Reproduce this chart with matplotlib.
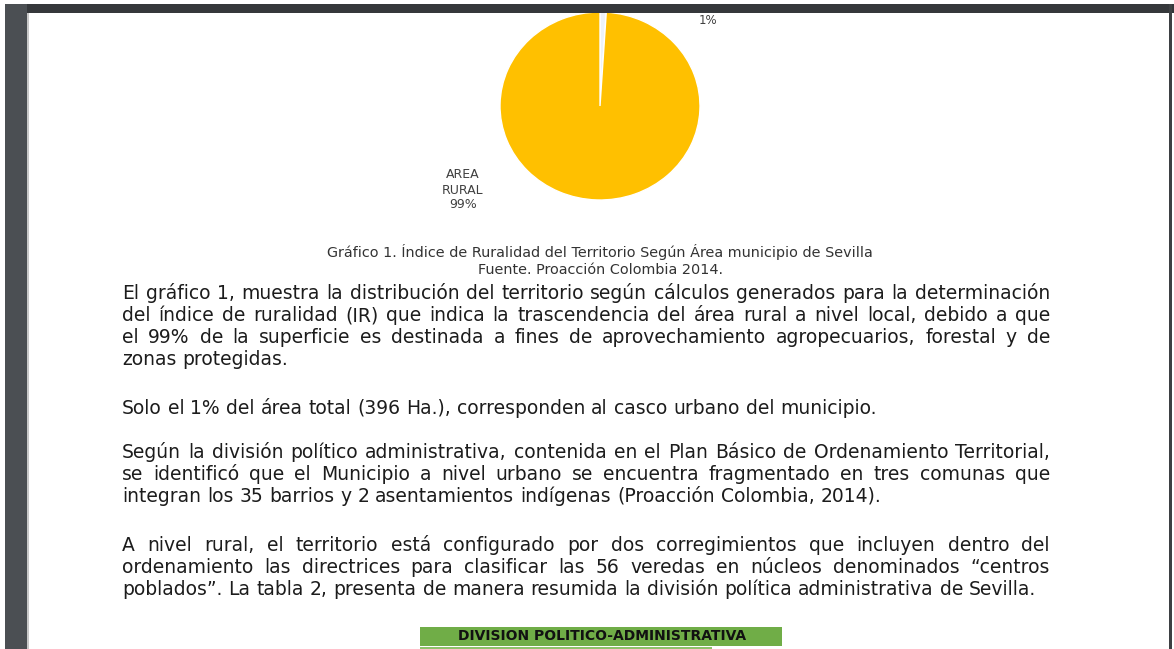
import matplotlib
matplotlib.use("Agg")
import matplotlib.pyplot as plt
from matplotlib.patches import Rectangle

# ---------------- data ----------------
categories = ["AREA URBANA", "AREA RURAL"]
values = [1, 99]
slice_colors = ["#eef3f8", "#ffc000"]

caption_lines = [
    "Gráfico 1. Índice de Ruralidad del Territorio Según Área municipio de Sevilla",
    "Fuente. Proacción Colombia 2014.",
]
paragraphs = [
    ["El gráfico 1, muestra la distribución del territorio según cálculos generados para la determinación",
     "del índice de ruralidad (IR) que indica la trascendencia del área rural a nivel local, debido a que",
     "el 99% de la superficie es destinada a fines de aprovechamiento agropecuarios, forestal y de",
     "zonas protegidas."],
    ["Solo el 1% del área total (396 Ha.), corresponden al casco urbano del municipio."],
    ["Según la división político administrativa, contenida en el Plan Básico de Ordenamiento Territorial,",
     "se identificó que el Municipio a nivel urbano se encuentra fragmentado en tres comunas que",
     "integran los 35 barrios y 2 asentamientos indígenas (Proacción Colombia, 2014)."],
    ["A nivel rural, el territorio está configurado por dos corregimientos que incluyen dentro del",
     "ordenamiento las directrices para clasificar las 56 veredas en núcleos denominados “centros",
     "poblados”. La tabla 2, presenta de manera resumida la división política administrativa de Sevilla."],
]
table_title = "DIVISION POLITICO-ADMINISTRATIVA"

# ---------------- figure ----------------
W, H = 1174, 649
fig = plt.figure(figsize=(W / 100, H / 100), dpi=100)
fig.patch.set_facecolor("white")
FONT = "DejaVu Sans"

def fx(px):
    return px / W

def fy(py):
    return 1 - py / H

# pie (slightly squashed ellipse as in the screenshot)
cx, cy, rx, ry = 600, 106, 100, 94
ax = fig.add_axes([fx(cx - rx), fy(cy + ry), 2 * rx / W, 2 * ry / H])
ax.pie([values[0], values[1]], colors=slice_colors, startangle=90,
       counterclock=False, radius=1.0,
       wedgeprops=dict(edgecolor="white", linewidth=1.0))
ax.set_aspect("auto")
ax.set_xlim(-1, 1)
ax.set_ylim(-1, 1)
ax.axis("off")

lab_col = "#404040"
fig.text(fx(708), fy(21), f"{values[0]}%", ha="center", va="center",
         fontsize=8.5, color=lab_col, family=FONT)
fig.text(fx(463), fy(190), "AREA\nRURAL\n" + f"{values[1]}%", ha="center",
         va="center", fontsize=9, color=lab_col, family=FONT,
         linespacing=1.2)

renderer = fig.canvas.get_renderer()

def text_width(s, size, weight="normal"):
    t = fig.text(0, 0, s, fontsize=size, family=FONT, weight=weight)
    w = t.get_window_extent(renderer).width
    t.remove()
    return w

# calibrate font sizes from known line widths in the reference
body_size = 10 * 756 / text_width(paragraphs[1][0], 10)
cap_size = 10 * 546 / text_width(caption_lines[0], 10)
tab_size = 10 * 289 / text_width(table_title, 10, "bold")

# caption
for line, by in zip(caption_lines, [257, 274]):
    fig.text(fx(600), fy(by), line, ha="center", va="baseline",
             fontsize=cap_size, color="#333333", family=FONT)

# body text, justified
LEFT, RIGHT = 122, 1050
space_w = text_width("a a", body_size) - text_width("aa", body_size)
baselines = [[299, 321, 343, 365], [414], [458, 480, 502], [551, 573, 595]]
for para, bls in zip(paragraphs, baselines):
    for i, (line, by) in enumerate(zip(para, bls)):
        words = line.split(" ")
        widths = [text_width(w, body_size) for w in words]
        last = (i == len(para) - 1)
        if last or len(words) == 1:
            gap = space_w
        else:
            gap = (RIGHT - LEFT - sum(widths)) / (len(words) - 1)
        x = LEFT
        for w, wd in zip(words, widths):
            fig.text(fx(x), fy(by), w, ha="left", va="baseline",
                     fontsize=body_size, color="#1c1c1c", family=FONT)
            x += wd + gap

# table header
fig.patches.append(Rectangle((fx(420), fy(646)), fx(362), 19 / H,
                             transform=fig.transFigure, facecolor="#70ad47",
                             edgecolor="none", zorder=2))
fig.patches.append(Rectangle((fx(420), fy(649)), fx(292), 2 / H,
                             transform=fig.transFigure, facecolor="#8fc16a",
                             edgecolor="none", zorder=2))
fig.text(fx(602), fy(636.5), table_title, ha="center", va="center",
         fontsize=tab_size, weight="bold", color="#111111", family=FONT, zorder=3)

# viewer frame
def frame_rect(x0, y0, w, h, col):
    fig.patches.append(Rectangle((fx(x0), fy(y0 + h)), w / W, h / H,
                                 transform=fig.transFigure, facecolor=col,
                                 edgecolor="none", zorder=10))

frame_rect(5, 4, 1169, 9, "#35383b")
frame_rect(5, 4, 22, 645, "#4b4f53")
frame_rect(27, 13, 2, 636, "#c8c8c8")
frame_rect(1169, 4, 3, 645, "#3d4043")

fig.savefig("out.png", dpi=100, facecolor="white")
